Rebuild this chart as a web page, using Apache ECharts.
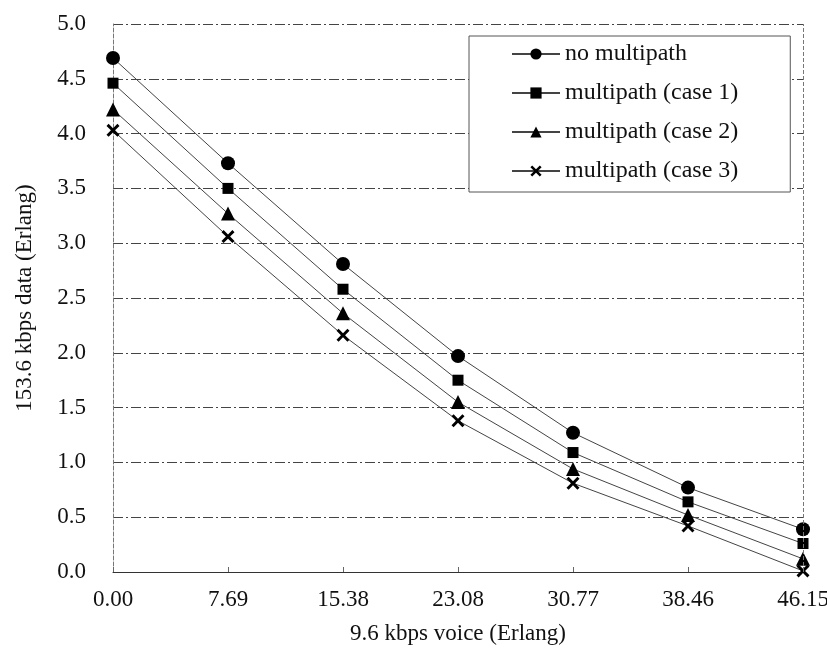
<!DOCTYPE html>
<html>
<head>
<meta charset="utf-8">
<script src="https://cdn.jsdelivr.net/npm/echarts@6/dist/echarts.min.js"></script>
<style>html,body{margin:0;padding:0;background:#fff}#c{width:827px;height:654px}</style>
</head>
<body>
<div id="c"></div>
<script>
const categories = ['0.00', '7.69', '15.38', '23.08', '30.77', '38.46', '46.15'];
const noMultipath = [4.69, 3.73, 2.81, 1.97, 1.27, 0.77, 0.39];
const case1 = [4.46, 3.50, 2.58, 1.75, 1.09, 0.64, 0.26];
const case2 = [4.22, 3.27, 2.36, 1.55, 0.94, 0.52, 0.12];
const case3 = [4.03, 3.06, 2.16, 1.38, 0.81, 0.42, 0.01];
const seriesNames = ['no multipath', 'multipath (case 1)', 'multipath (case 2)', 'multipath (case 3)'];
const xTitle = '9.6 kbps voice (Erlang)';
const yTitle = '153.6 kbps data (Erlang)';

const FONT = '"Liberation Serif", "Times New Roman", serif';
const crossPath = 'path://M0,1.6L1.6,0L5,3.4L8.4,0L10,1.6L6.6,5L10,8.4L8.4,10L5,6.6L1.6,10L0,8.4L3.4,5Z';
const symbols = ['circle', 'rect', 'triangle', crossPath];
const sizes = [14, 11, 14, 13];
const dataSets = [noMultipath, case1, case2, case3];

const chart = echarts.init(document.getElementById('c'), null, {renderer: 'canvas'});
chart.setOption({
  backgroundColor: '#fff',
  animation: false,
  grid: {left: 113, right: 24, top: 24, bottom: 82, show: false, containLabel: false, outerBoundsMode: 'none'},
  legend: {
    orient: 'vertical',
    left: 469, top: 36,
    padding: [6, 52, 9, 42],
    itemWidth: 48, itemHeight: 14, itemGap: 15,
    backgroundColor: '#fff',
    borderColor: '#555', borderWidth: 1,
    textStyle: {fontFamily: FONT, fontSize: 24, color: '#111'},
    data: seriesNames
  },
  xAxis: {
    type: 'category',
    data: categories,
    boundaryGap: false,
    name: xTitle,
    nameLocation: 'middle',
    nameGap: 50,
    nameTextStyle: {fontFamily: FONT, fontSize: 23, color: '#111'},
    axisLine: {show: true, lineStyle: {color: '#333', width: 1}},
    axisTick: {show: true, inside: true, length: 5, lineStyle: {color: '#666'}},
    axisLabel: {fontFamily: FONT, fontSize: 23, color: '#111', margin: 16},
    splitLine: {show: false}
  },
  yAxis: {
    type: 'value',
    min: 0, max: 5, interval: 0.5,
    name: yTitle,
    nameLocation: 'middle',
    nameGap: 77,
    nameTextStyle: {fontFamily: FONT, fontSize: 23, color: '#111'},
    axisLine: {show: true, lineStyle: {color: '#777', width: 1, type: 'dashed'}},
    axisTick: {show: false},
    axisLabel: {fontFamily: FONT, fontSize: 23, color: '#111', margin: 27,
      formatter: v => v.toFixed(1)},
    splitLine: {show: true, lineStyle: {color: '#444', width: 1, type: [10, 3, 2, 3]}}
  },
  series: dataSets.map((d, i) => ({
    name: seriesNames[i],
    type: 'line',
    data: d,
    symbol: symbols[i],
    symbolSize: sizes[i],
    showAllSymbol: true,
    lineStyle: {color: '#444', width: 1},
    itemStyle: {color: '#000'},
    emphasis: {disabled: true},
    z: 3
  })).concat([{
    type: 'line', data: [], silent: true,
    markLine: {
      silent: true, symbol: 'none', label: {show: false},
      lineStyle: {color: '#777', type: 'dashed', width: 1},
      data: [[{xAxis: '46.15', yAxis: 0}, {xAxis: '46.15', yAxis: 5}]]
    }
  }])
});
</script>
</body>
</html>
